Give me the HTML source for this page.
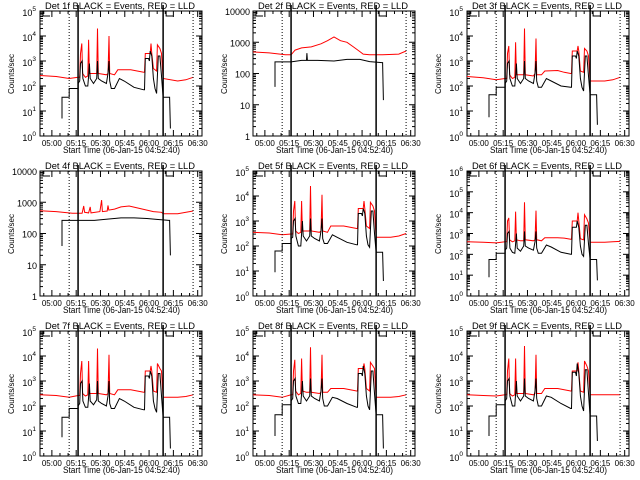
<!DOCTYPE html>
<html><head><meta charset="utf-8"><style>
body{margin:0;background:#fff}
svg{display:block}
text{font-family:"Liberation Sans",sans-serif;fill:#000}
</style></head><body>
<svg id="c" width="640" height="480" viewBox="0 0 640 480"></svg>
<script>
// time in minutes from 04:52:40 ; values are log10(counts/sec)
const flareTB=[13.6,13.6,18,18,23.5,23.5,24.5,25,26,26.5,28,29.5,30,30.5,31,33,35,35.5,36,38,41,42,42.6,43,44,46,49,52,58,64,64.5,65,67,67.5,68,69,70,71,72,73,74,75,76,80,80.5];
const flareTR=[0,10,18,23.5,24.5,25,25.8,26.3,28,29.5,30,30.5,33,35,35.5,36,41,42,42.6,43,46,48,56,60,64,64.5,65,68,68.5,69,70,72,72.5,74,75,76,85,90,94.5];
const nfTB=[13.6,13.6,23.5,30,33,33.3,33.6,40,50,58,66,72,79.5,80,80.5];
const nfTR=[0,10,20,23.5,26,30,36,42,46,50,54,58,62,66,68,72,80,90,94.5];
const p4TR=[0,10,20,23.5,26,27,27.5,30,31,31.5,37,38,38.5,41.5,42,42.5,46,50,55,60,66,70,75,76,85,94.5];

const black1=[0.7,1.55,1.55,1.9,1.9,2.1,2.2,2.9,3.0,2.3,2.0,2.0,2.4,2.9,2.3,2.1,2.3,3.0,2.3,2.2,2.1,2.5,3.0,2.2,1.9,1.9,2.3,2.2,1.95,1.85,1.85,3.1,3.1,3.0,3.4,3.2,2.3,1.9,1.7,3.2,3.2,2.4,1.55,1.55,0.3];
const red1=[2.42,2.38,2.3,2.35,2.35,3.3,3.7,2.5,2.35,2.4,3.85,2.5,2.5,2.5,4.3,2.5,2.45,2.5,4.0,2.5,2.45,2.65,2.65,2.6,2.55,2.55,3.3,3.3,3.7,3.3,2.7,2.6,3.65,3.5,3.3,2.3,2.2,2.25,2.35];
const black2=[1.57,2.37,2.37,2.42,2.42,2.65,2.42,2.42,2.4,2.45,2.45,2.38,2.35,2.35,1.15];
const red2=[2.69,2.66,2.6,2.6,2.75,2.82,2.85,2.95,3.05,3.17,3.05,3.0,2.85,2.7,2.62,2.6,2.6,2.62,2.72];
const black3=[0.75,1.65,1.65,1.95,1.95,2.1,2.2,2.9,3.0,2.3,2.0,2.0,2.4,2.9,2.3,2.1,2.3,3.0,2.3,2.2,2.1,2.5,3.0,2.2,1.95,1.95,2.3,2.2,2.0,1.95,1.95,3.2,3.2,3.1,3.4,3.2,2.3,1.95,1.8,3.2,3.2,2.4,1.65,1.65,0.45];
const red3=[2.38,2.33,2.25,2.3,2.3,3.3,3.6,2.45,2.3,2.35,3.75,2.45,2.45,2.45,4.3,2.45,2.4,2.5,3.9,2.45,2.45,2.6,2.62,2.55,2.5,2.5,3.4,3.4,3.6,3.4,2.6,2.55,3.5,3.4,3.2,2.2,2.2,2.25,2.35];
const black4=[1.6,2.42,2.42,2.42,2.42,2.42,2.42,2.45,2.5,2.5,2.48,2.45,2.42,2.42,1.3];
const red4=[2.73,2.7,2.65,2.65,2.65,2.88,2.68,2.66,2.85,2.66,2.7,3.07,2.7,2.72,2.9,2.75,2.78,2.85,2.88,2.82,2.75,2.7,2.68,2.63,2.63,2.72];
const black5=[0.95,1.8,1.8,2.1,2.1,2.3,2.35,3.0,3.1,2.4,2.0,2.0,2.5,3.0,2.4,2.2,2.4,3.1,2.4,2.3,2.2,2.6,3.1,2.3,2.1,2.1,2.45,2.35,2.15,2.05,2.05,3.3,3.3,3.2,3.5,3.3,2.4,2.05,1.95,3.4,3.4,2.5,1.75,1.75,0.6];
const red5=[2.55,2.52,2.45,2.48,2.48,3.4,3.8,2.6,2.5,2.55,3.8,2.6,2.6,2.6,4.4,2.6,2.55,2.6,4.05,2.6,2.55,2.8,2.8,2.75,2.7,2.7,3.5,3.5,3.8,3.5,2.8,2.7,3.75,3.6,3.4,2.35,2.35,2.4,2.5];
const black6=[0.9,1.75,1.75,2.05,2.05,2.2,2.3,3.0,3.1,2.3,2.1,2.05,2.5,3.0,2.3,2.15,2.4,3.1,2.4,2.3,2.2,2.6,3.1,2.3,2.05,2.05,2.45,2.35,2.1,2.0,2.0,3.3,3.3,3.3,3.6,3.3,2.4,2.0,1.9,3.4,3.4,2.5,1.75,1.75,0.75];
const red6=[2.6,2.58,2.55,2.6,2.6,3.6,3.75,2.7,2.6,2.65,4.05,2.7,2.65,2.65,4.5,2.7,2.65,2.7,4.1,2.7,2.65,2.8,2.8,2.78,2.72,2.72,3.6,3.6,4.0,3.6,2.75,2.7,3.9,3.7,3.5,2.58,2.58,2.6,2.62];
const black7=[0.75,1.55,1.55,1.9,1.9,2.0,2.1,2.9,3.0,2.2,1.95,1.95,2.35,2.9,2.2,2.05,2.25,3.0,2.2,2.1,2.0,2.4,3.0,2.1,1.9,1.9,2.3,2.2,1.95,1.85,1.85,3.2,3.2,3.1,3.4,3.2,2.2,1.9,1.75,3.3,3.3,2.4,1.55,1.55,0.3];
const red7=[2.45,2.42,2.35,2.42,2.42,3.3,3.8,2.5,2.4,2.45,3.8,2.5,2.5,2.5,4.3,2.5,2.45,2.5,4.05,2.5,2.45,2.65,2.65,2.6,2.55,2.55,3.4,3.4,3.6,3.4,2.6,2.55,3.7,3.5,3.4,2.35,2.35,2.38,2.45];
const black8=[0.8,1.65,1.65,2.05,2.05,2.2,2.3,3.0,3.1,2.4,2.1,2.1,2.5,3.0,2.4,2.2,2.4,3.1,2.4,2.3,2.2,2.6,3.1,2.3,2.0,2.0,2.35,2.3,2.1,1.95,1.95,3.3,3.3,3.2,3.6,3.3,2.4,2.0,1.85,3.4,3.4,2.5,1.65,1.65,0.3];
const red8=[2.45,2.42,2.35,2.45,2.45,3.4,3.85,2.6,2.45,2.5,3.9,2.6,2.55,2.55,4.35,2.55,2.5,2.55,4.05,2.55,2.55,2.7,2.7,2.65,2.6,2.6,3.5,3.5,3.7,3.5,2.7,2.6,3.75,3.6,3.5,2.35,2.35,2.38,2.45];
const black9=[0.8,1.6,1.6,2.05,2.05,2.2,2.3,3.0,3.1,2.4,2.0,2.0,2.5,3.0,2.4,2.2,2.4,3.1,2.4,2.3,2.2,2.6,3.1,2.3,2.0,2.0,2.4,2.35,2.1,1.9,1.9,3.35,3.35,3.2,3.7,3.3,2.4,2.0,1.8,3.45,3.45,2.5,1.6,1.6,0.6];
const red9=[2.45,2.42,2.4,2.45,2.45,3.4,3.9,2.5,2.4,2.45,3.9,2.5,2.5,2.5,4.4,2.5,2.45,2.5,4.05,2.5,2.5,2.7,2.7,2.65,2.6,2.6,3.4,3.4,3.75,3.4,2.6,2.55,3.8,3.6,3.4,2.45,2.45,2.45,2.45];

const panelDets=["1f","2f","3f","4f","5f","6f","7f","8f","9f"];
const panelDecades=[5,4,5,4,5,6,5,5,5];
const xTickLabels=["05:00","05:15","05:30","05:45","06:00","06:15","06:30"];
const xTickTimes=[7.333,22.333,37.333,52.333,67.333,82.333,97.333];
const solidLines=[23.5,76];
const dottedLines=[18,94.5];
const panelBlackT=[flareTB,nfTB,flareTB,nfTB,flareTB,flareTB,flareTB,flareTB,flareTB];
const panelRedT=[flareTR,nfTR,flareTR,p4TR,flareTR,flareTR,flareTR,flareTR,flareTR];
const panelBlack=[black1,black2,black3,black4,black5,black6,black7,black8,black9];
const panelRed=[red1,red2,red3,red4,red5,red6,red7,red8,red9];

const NS="http://www.w3.org/2000/svg";
const svg=document.getElementById('c');
function mk(tag,attrs,parent){const e=document.createElementNS(NS,tag);for(const k in attrs)e.setAttribute(k,attrs[k]);(parent||svg).appendChild(e);return e;}

for(let i=0;i<9;i++){
  const px=[0,213,427][i%3], py=[0,160,320][Math.floor(i/3)];
  const x0=px+40,x1=px+202,y0=py+11,y1=py+136,T=100,nd=panelDecades[i];
  const sx=t=>x0+t/T*(x1-x0);
  const sy=v=>Math.max(y0,Math.min(y1,y1-v/nd*(y1-y0)));
  const g=mk('g',{});
  
  
  const title=mk('text',{x:px+45,y:py+9,'font-size':'9',textLength:150,lengthAdjust:'spacingAndGlyphs'},g);
  title.textContent='Det '+panelDets[i]+' BLACK = Events, RED = LLD';
  
  
  const box=mk('rect',{x:x0,y:y0,width:x1-x0,height:y1-y0,fill:'none',stroke:'#000','stroke-width':1},g);
  
  
  for(let d=0;d<=nd;d++){
    const y=sy(d);
    mk('line',{x1:x0,x2:x0+6,y1:y,y2:y,stroke:'#000'},g);
    mk('line',{x1:x1,x2:x1-6,y1:y,y2:y,stroke:'#000'},g);
    let lab;
    if(nd===4){lab=mk('text',{x:x0-3,y:y+4,'font-size':'9','text-anchor':'end'},g);lab.textContent=String(Math.pow(10,d));}
    else{lab=mk('text',{x:x0-4,y:y+5,'font-size':'9','text-anchor':'end'},g);
      const a=mk('tspan',{},lab);a.textContent='10';
      const b=mk('tspan',{dy:-5,'font-size':'6.5'},lab);b.textContent=String(d);}
    
    
    if(d<nd)for(let m=2;m<10;m++){const ym=sy(d+Math.log10(m));
      mk('line',{x1:x0,x2:x0+3,y1:ym,y2:ym,stroke:'#000'},g);
      mk('line',{x1:x1,x2:x1-3,y1:ym,y2:ym,stroke:'#000'},g);}
  }
  xTickTimes.forEach((t,k)=>{const x=sx(t);
    mk('line',{x1:x,x2:x,y1:y1,y2:y1-6,stroke:'#000'},g);
    mk('line',{x1:x,x2:x,y1:y0,y2:y0+6,stroke:'#000'},g);
    const l=mk('text',{x:x,y:y1+10,'font-size':'8','text-anchor':'middle'},g);l.textContent=xTickLabels[k];
    
    
    for(let m=1;m<3;m++){const xm=sx(t-m*5);if(xm>x0){mk('line',{x1:xm,x2:xm,y1:y1,y2:y1-3,stroke:'#000'},g);mk('line',{x1:xm,x2:xm,y1:y0,y2:y0+3,stroke:'#000'},g);}}
  });
  const xt=mk('text',{x:px+63,y:py+153,'font-size':'9',textLength:117,lengthAdjust:'spacingAndGlyphs'},g);
  xt.textContent='Start Time (06-Jan-15 04:52:40)';
  
  
  const yt=mk('text',{x:0,y:0,'font-size':'8','text-anchor':'middle',transform:`translate(${px+14},${py+74}) rotate(-90)`},g);
  yt.textContent='Counts/sec';
  
  
  const rp=panelRedT[i].map((t,k)=>sx(t).toFixed(1)+','+sy(panelRed[i][k]).toFixed(1)).join(' ');
  const red=mk('polyline',{points:rp,fill:'none',stroke:'#f00','stroke-width':1},g);
  
  
  const bp=panelBlackT[i].map((t,k)=>sx(t).toFixed(1)+','+sy(panelBlack[i][k]).toFixed(1)).join(' ');
  const blk=mk('polyline',{points:bp,fill:'none',stroke:'#000','stroke-width':1},g);
  
  
  solidLines.forEach(t=>{const x=sx(t);
    const l=mk('line',{x1:x,x2:x,y1:py+5,y2:y1,stroke:'#000','stroke-width':1.5},g);
    
    });
  dottedLines.forEach(t=>{const x=sx(t);
    const l=mk('line',{x1:x,x2:x,y1:y0,y2:y1,stroke:'#000','stroke-width':1,'stroke-dasharray':'1,2'},g);
    
    });
  [x0+3,sx(76)+3].forEach(x=>{
    const b=mk('polyline',{points:`${x},${y0} ${x},${y0+5} ${x+7},${y0+5}`,fill:'none',stroke:'#000'},g);
    
    });
}
</script>
</body></html>
